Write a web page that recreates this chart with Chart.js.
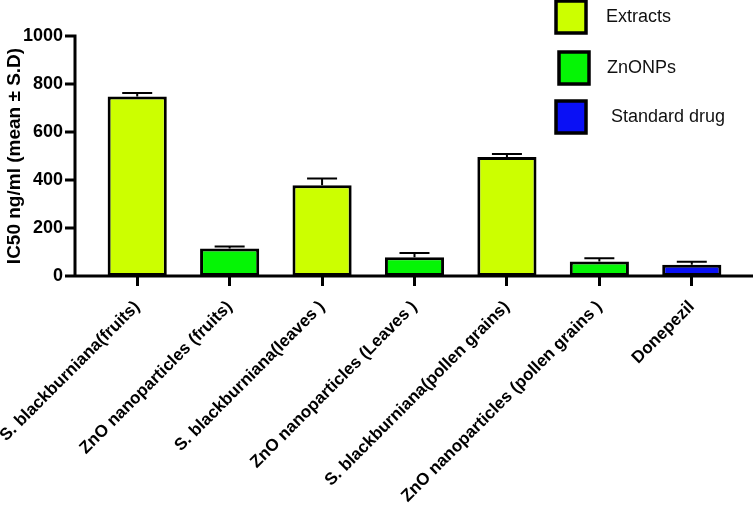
<!DOCTYPE html>
<html>
<head>
<meta charset="utf-8">
<script src="https://cdn.jsdelivr.net/npm/chart.js@4/dist/chart.umd.min.js"></script>
<style>
  html, body { margin: 0; padding: 0; background: #fff; }
  #wrap { width: 756px; height: 512px; }
</style>
</head>
<body>
<div id="wrap"><canvas id="ic50Chart"></canvas></div>
<script>
// chart data
const categories = [
  "S. blackburniana(fruits)",
  "ZnO nanoparticles (fruits)",
  "S. blackburniana(leaves )",
  "ZnO nanoparticles (Leaves )",
  "S. blackburniana(pollen grains)",
  "ZnO nanoparticles (pollen grains )",
  "Donepezil"
];
const ic50Values = [748, 115, 378, 78, 496, 60, 47];
const sdValues = [15, 8, 28, 18, 12, 14, 12];
const groupOf = [0, 1, 0, 1, 0, 1, 2]; // index into legend groups
const groupNames = ["Extracts", "ZnONPs", " Standard drug"];
const groupColors = ["#ccff00", "#05f505", "#0a10f5"];
const yTicks = [0, 200, 400, 600, 800, 1000];

const fontFam = "'Liberation Sans', Arial, sans-serif";

// y axis line + ticks, x axis line, error bars, legend
const extrasPlugin = {
  id: "extras",
  afterDatasetsDraw(chart) {
    const ctx = chart.ctx;
    const y = chart.scales.y;
    const area = chart.chartArea;
    ctx.save();
    ctx.strokeStyle = "#000";

    // error bars (drawn from data through scales)
    ctx.lineWidth = 2;
    const meta = chart.getDatasetMeta(0);
    meta.data.forEach((bar, i) => {
      const top = y.getPixelForValue(ic50Values[i]);
      const hi = y.getPixelForValue(ic50Values[i] + sdValues[i]);
      ctx.beginPath();
      ctx.moveTo(bar.x, top);
      ctx.lineTo(bar.x, hi);
      ctx.moveTo(bar.x - 15, hi);
      ctx.lineTo(bar.x + 15, hi);
      ctx.stroke();
    });

    // axes
    const axisX = 75;
    ctx.lineWidth = 3;
    ctx.beginPath();
    ctx.moveTo(axisX, y.getPixelForValue(1000) - 1.5);
    ctx.lineTo(axisX, area.bottom);
    ctx.moveTo(axisX - 1.5, area.bottom);
    ctx.lineTo(753, area.bottom);
    yTicks.forEach((t) => {
      const py = y.getPixelForValue(t);
      ctx.moveTo(axisX - 10, py);
      ctx.lineTo(axisX, py);
    });
    ctx.stroke();

    // legend
    const legendY = [1, 52, 101];
    const boxX = [556, 559, 556];
    const textX = [606, 607, 606];
    ctx.font = "18px " + fontFam;
    ctx.textBaseline = "middle";
    ctx.textAlign = "left";
    groupNames.forEach((name, g) => {
      ctx.fillStyle = groupColors[g];
      ctx.fillRect(boxX[g], legendY[g], 30, 32);
      ctx.lineWidth = 3.5;
      ctx.strokeStyle = "#000";
      ctx.strokeRect(boxX[g], legendY[g], 30, 32);
      ctx.fillStyle = "#111";
      ctx.fillText(name, textX[g], legendY[g] + 16);
    });
    ctx.restore();
  }
};

new Chart(document.getElementById("ic50Chart"), {
  type: "bar",
  data: {
    labels: categories,
    datasets: [{
      label: "IC50",
      data: ic50Values,
      backgroundColor: groupOf.map((g) => groupColors[g]),
      borderColor: "#000",
      borderWidth: 3,
      borderSkipped: false,
      barPercentage: 0.64,
      categoryPercentage: 1
    }]
  },
  options: {
    responsive: true,
    maintainAspectRatio: false,
    animation: false,
    layout: { padding: { top: 36, right: 18, left: 0, bottom: 0 } },
    plugins: {
      legend: { display: false },
      tooltip: { enabled: false }
    },
    scales: {
      x: {
        offset: true,
        grid: { display: true, drawOnChartArea: false, offset: false, tickLength: 10, tickWidth: 3, color: "#000" },
        border: { display: false },
        ticks: {
          color: "#000",
          font: { family: fontFam, size: 17, weight: "bold" },
          minRotation: 45,
          maxRotation: 45,
          padding: 11,
          autoSkip: false
        },
        afterFit: (s) => {
          s.height = 236;
          s.paddingLeft = 0;
          s.paddingRight = 0;
        }
      },
      y: {
        min: 0,
        max: 1000,
        afterBuildTicks: (s) => { s.ticks = yTicks.map((v) => ({ value: v })); },
        grid: { display: false },
        border: { display: false },
        ticks: {
          color: "#000",
          padding: 20,
          font: { family: fontFam, size: 18, weight: "bold" },
          callback: (v) => String(v)
        },
        title: {
          display: true,
          text: "IC50 ng/ml (mean ± S.D)",
          color: "#000",
          padding: { top: 3, bottom: 0 },
          font: { family: fontFam, size: 19, weight: "bold" }
        },
        afterFit: (s) => {
          s.width = 91;
          s.paddingTop = 0;
          s.paddingBottom = 0;
        }
      }
    }
  },
  plugins: [extrasPlugin]
});
</script>
</body>
</html>
